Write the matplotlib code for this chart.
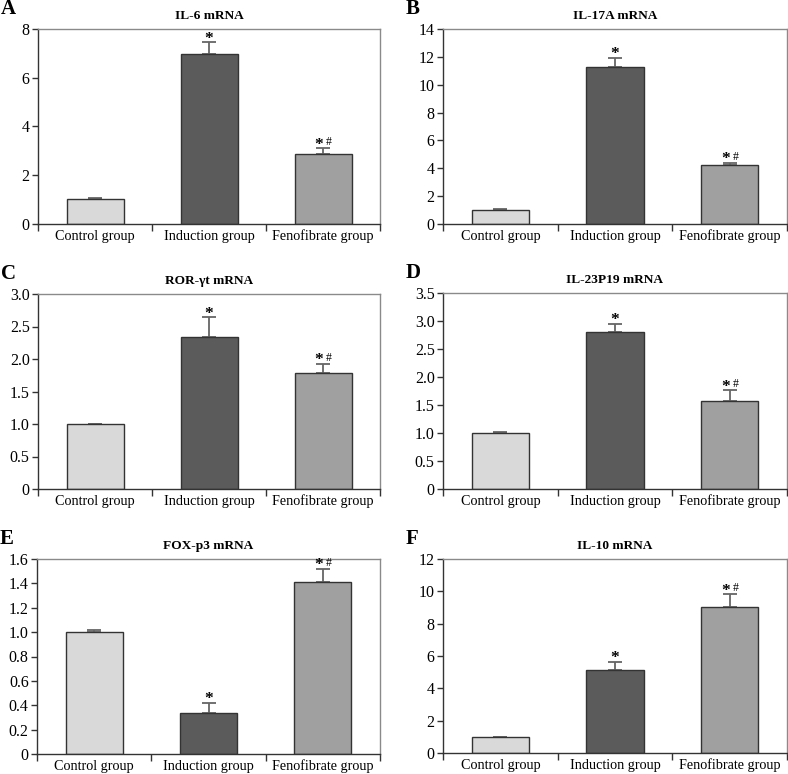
import matplotlib.pyplot as plt

groups = ["Control group", "Induction group", "Fenofibrate group"]
bar_colors = ["#d9d9d9", "#5b5b5b", "#a0a0a0"]

letters = ["A", "B", "C", "D", "E", "F"]
titles = ["IL-6 mRNA", "IL-17A mRNA", "ROR-\u03b3t mRNA", "IL-23P19 mRNA", "FOX-p3 mRNA", "IL-10 mRNA"]

means = [
    [1.02, 6.98, 2.88],
    [1.00, 11.30, 4.23],
    [1.00, 2.34, 1.78],
    [1.00, 2.80, 1.57],
    [1.005, 0.336, 1.41],
    [1.00, 5.12, 9.05],
]
errors = [
    [0.04, 0.47, 0.22],
    [0.05, 0.60, 0.14],
    [0.00, 0.30, 0.15],
    [0.01, 0.15, 0.19],
    [0.01, 0.08, 0.11],
    [0.00, 0.52, 0.76],
]
marks = [
    ["", "*", "*#"],
    ["", "*", "*#"],
    ["", "*", "*#"],
    ["", "*", "*#"],
    ["", "*", "*#"],
    ["", "*", "*#"],
]
y_max = [8, 14, 3.0, 3.5, 1.6, 12]
y_ticks = [
    [0, 2, 4, 6, 8],
    [0, 2, 4, 6, 8, 10, 12, 14],
    [0, 0.5, 1.0, 1.5, 2.0, 2.5, 3.0],
    [0, 0.5, 1.0, 1.5, 2.0, 2.5, 3.0, 3.5],
    [0, 0.2, 0.4, 0.6, 0.8, 1.0, 1.2, 1.4, 1.6],
    [0, 2, 4, 6, 8, 10, 12],
]
y_labels = [
    ["0", "2", "4", "6", "8"],
    ["0", "2", "4", "6", "8", "10", "12", "14"],
    ["0", "0.5", "1.0", "1.5", "2.0", "2.5", "3.0"],
    ["0", "0.5", "1.0", "1.5", "2.0", "2.5", "3.0", "3.5"],
    ["0", "0.2", "0.4", "0.6", "0.8", "1.0", "1.2", "1.4", "1.6"],
    ["0", "2", "4", "6", "8", "10", "12"],
]

plt.rcParams['font.family'] = ['Liberation Serif', 'DejaVu Serif']

W, H = 788, 774
fig = plt.figure(figsize=(W / 100, H / 100), dpi=100)

# axes boxes in pixels: left, top, right, bottom
boxes = [
    (38, 29, 380, 224),
    (443, 29, 787, 224),
    (38, 294, 380, 489),
    (443, 293, 787, 489),
    (37, 559, 380, 754),
    (443, 559, 787, 753),
]

x = [0, 1, 2]
for i in range(6):
    l, t, r, b = boxes[i]
    ax = fig.add_axes([l / W, 1 - b / H, (r - l) / W, (b - t) / H])
    ax.bar(x, means[i], width=0.5, color=bar_colors, edgecolor="#333333", linewidth=1.0, zorder=2)
    ax.errorbar(x, means[i], yerr=[[0, 0, 0], errors[i]], fmt="none", ecolor="#666666",
                elinewidth=1.3, capsize=5, capthick=1.3, zorder=1)
    for j in range(3):
        if marks[i][j]:
            top = means[i][j] + errors[i][j]
            if marks[i][j] == "*":
                ax.annotate("*", (x[j], top), xytext=(0, -3), textcoords="offset points",
                            ha="center", va="bottom", fontsize=12.5, fontweight="bold")
            else:
                ax.annotate("*", (x[j], top), xytext=(-3, -3), textcoords="offset points",
                            ha="center", va="bottom", fontsize=12.5, fontweight="bold")
                ax.annotate("#", (x[j], top), xytext=(4, 0), textcoords="offset points",
                            ha="center", va="bottom", fontsize=8.5)
    ax.set_xlim(-0.5, 2.5)
    ax.set_ylim(0, y_max[i])
    ax.set_yticks(y_ticks[i])
    ax.set_yticklabels(y_labels[i], fontsize=11.5)
    ax.set_xticks([-0.5, 0.5, 1.5, 2.5])
    ax.set_xticklabels([])
    ax.set_xticks(x, minor=True)
    ax.set_xticklabels(groups, minor=True, fontsize=10.2)
    ax.tick_params(axis="x", which="minor", length=0, pad=4)
    ax.tick_params(axis="x", which="major", length=5, width=1, color="#333333")
    ax.tick_params(axis="y", length=4, width=1, color="#333333", pad=2)
    for side in ["top", "right"]:
        ax.spines[side].set_color("#8a8a8a")
        ax.spines[side].set_linewidth(1.0)
    for side in ["left", "bottom"]:
        ax.spines[side].set_color("#333333")
        ax.spines[side].set_linewidth(1.0)
    ax.set_title(titles[i], fontsize=9.6, fontweight="bold", pad=7)
    fig.text((l - 37) / W, 1 - (t - 20) / H, letters[i], fontsize=15, fontweight="bold",
             ha="left", va="center")

fig.savefig("out.png", dpi=100)
